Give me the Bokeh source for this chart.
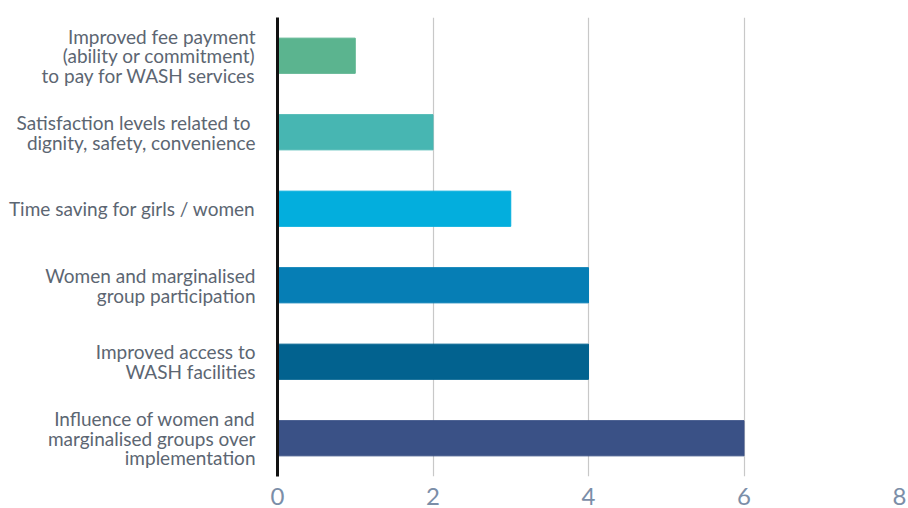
from bokeh.plotting import figure
from bokeh.models import ColumnDataSource, FixedTicker
from bokeh.embed import file_html
from bokeh.resources import INLINE

categories = [
    "Improved fee payment\n(ability or commitment)\nto pay for WASH services",
    "Satisfaction levels related to \ndignity, safety, convenience",
    "Time saving for girls / women",
    "Women and marginalised\ngroup participation",
    "Improved access to\nWASH facilities",
    "Influence of women and\nmarginalised groups over\nimplementation",
]
values = [1, 2, 3, 4, 4, 6]
colors = ["#5bb48f", "#47b6b2", "#03aedd", "#067eb5", "#02628f", "#3a5186"]
x_ticks = [0, 2, 4, 6, 8]

src = ColumnDataSource(dict(cat=categories, val=values, color=colors))

p = figure(
    width=908, height=508,
    y_range=list(reversed(categories)),
    x_range=(0, 8),
    output_backend="svg", toolbar_location=None,
    min_border_left=277, min_border_right=9, min_border_top=17, min_border_bottom=32,
)
p.hbar(y="cat", right="val", left=0, height=0.46, color="color", source=src)

p.outline_line_color = None
p.background_fill_color = "white"
p.border_fill_color = "white"

p.xgrid.ticker = FixedTicker(ticks=x_ticks)
p.xgrid.grid_line_color = "#c8c8c8"
p.xgrid.grid_line_width = 1.2
p.ygrid.grid_line_color = None

p.xaxis.ticker = FixedTicker(ticks=x_ticks)
p.xaxis.axis_line_color = None
p.xaxis.major_tick_line_color = None
p.xaxis.minor_tick_line_color = None
p.xaxis.major_label_text_font = "Lato"
p.xaxis.major_label_text_font_size = "24px"
p.xaxis.major_label_text_color = "#7b8ea8"
p.xaxis.major_label_standoff = 5

p.yaxis.axis_line_color = "#111111"
p.yaxis.axis_line_width = 3
p.yaxis.major_tick_line_color = None
p.yaxis.minor_tick_line_color = None
p.yaxis.major_label_text_font = "Lato"
p.yaxis.major_label_text_font_size = "19px"
p.yaxis.major_label_text_color = "#5c6672"
p.yaxis.major_label_standoff = 16
p.yaxis.major_label_text_line_height = 0.85

open("out.html", "w").write(file_html(p, INLINE))
